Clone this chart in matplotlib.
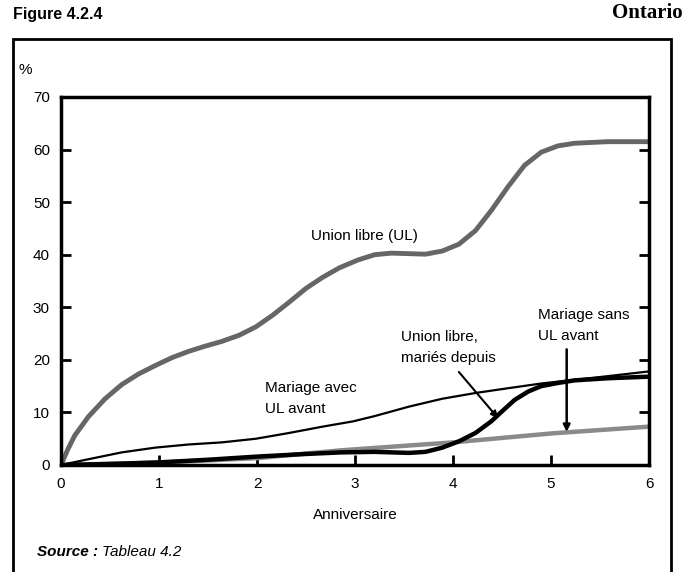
import matplotlib.pyplot as plt
from matplotlib.patches import Rectangle
from matplotlib.ticker import FixedLocator

# Anniversaire (years) and % values
x_ul = [0, 0.07, 0.14, 0.28, 0.45, 0.62, 0.79, 0.96, 1.13, 1.30, 1.47, 1.64, 1.82,
        1.99, 2.16, 2.33, 2.50, 2.67, 2.84, 3.03, 3.20, 3.37, 3.55, 3.72, 3.89,
        4.06, 4.23, 4.39, 4.56, 4.73, 4.90, 5.07, 5.24, 5.58, 6.0]
union_libre = [0, 3.0, 5.6, 9.2, 12.6, 15.3, 17.3, 18.9, 20.4, 21.6, 22.6, 23.5,
               24.7, 26.3, 28.5, 31.0, 33.6, 35.7, 37.5, 39.0, 40.0, 40.3, 40.2,
               40.1, 40.7, 42.0, 44.6, 48.4, 52.9, 57.0, 59.5, 60.7, 61.2, 61.5, 61.5]

x_avec = [0, 0.28, 0.62, 0.96, 1.30, 1.64, 1.99, 2.33, 2.67, 2.98, 3.20, 3.55, 3.89,
          4.23, 4.56, 4.90, 5.24, 5.58, 6.0]
mariage_avec_ul = [0, 1.1, 2.4, 3.3, 3.9, 4.3, 5.0, 6.1, 7.3, 8.3, 9.3, 11.1, 12.6,
                   13.7, 14.6, 15.5, 16.2, 16.9, 17.8]

x_depuis = [0, 0.5, 1.0, 1.5, 2.0, 2.5, 2.86, 3.20, 3.55, 3.72, 3.89, 4.06, 4.23,
            4.39, 4.50, 4.63, 4.77, 4.90, 5.07, 5.24, 5.58, 6.0]
ul_maries_depuis = [0, 0.2, 0.5, 1.0, 1.6, 2.1, 2.4, 2.5, 2.3, 2.5, 3.3, 4.5, 6.1,
                    8.3, 10.2, 12.4, 14.0, 15.0, 15.6, 16.1, 16.5, 16.8]

x_sans = [0, 1, 2, 2.86, 4, 5, 6]
mariage_sans_ul = [0, 0.45, 1.3, 2.8, 4.3, 6.0, 7.3]

xticks = [0, 1, 2, 3, 4, 5, 6]
yticks = [0, 10, 20, 30, 40, 50, 60, 70]

plt.rcParams["font.family"] = ["Liberation Sans", "DejaVu Sans"]

fig = plt.figure(figsize=(6.88, 5.72), dpi=100)

# outer frame
fig.patches.append(Rectangle((13 / 688, -0.01), (671 - 13) / 688, 1.01 - 39 / 572,
                             transform=fig.transFigure, fill=False,
                             edgecolor="black", linewidth=2))

ax = fig.add_axes([61 / 688, 1 - 465 / 572, (649 - 61) / 688, (465 - 97) / 572])

line_kw = dict(solid_joinstyle="round", solid_capstyle="round")
ax.plot(x_ul, union_libre, color="#666666", linewidth=3.5, **line_kw)
ax.plot(x_sans, mariage_sans_ul, color="#8a8a8a", linewidth=3.2, **line_kw)
ax.plot(x_avec, mariage_avec_ul, color="black", linewidth=1.6, **line_kw)
ax.plot(x_depuis, ul_maries_depuis, color="black", linewidth=3.2, **line_kw)

ax.set_xlim(0, 6)
ax.set_ylim(0, 70)
ax.xaxis.set_major_locator(FixedLocator(xticks))
ax.yaxis.set_major_locator(FixedLocator(yticks))
ax.tick_params(direction="in", length=7, width=2, labelsize=11, pad=8,
               left=True, right=True, top=False, bottom=True)
ax.tick_params(axis="x", pad=9)
for s in ax.spines.values():
    s.set_linewidth(2.5)
ax.set_xlabel("Anniversaire", fontsize=11, labelpad=12)

ax.text(-0.05, 1.055, "%", transform=ax.transAxes, fontsize=11, ha="right", va="bottom")

ax.text(3.1, 43.5, "Union libre (UL)", fontsize=11, ha="center", va="center")
ax.text(2.08, 12.7, "Mariage avec\nUL avant", fontsize=11, ha="left", va="center",
        linespacing=1.6)
ax.text(3.47, 22.4, "Union libre,\nmariés depuis", fontsize=11, ha="left", va="center",
        linespacing=1.6)
ax.text(4.87, 26.5, "Mariage sans\nUL avant", fontsize=11, ha="left", va="center",
        linespacing=1.6)
ax.annotate("", xy=(4.46, 8.9), xytext=(4.06, 17.7),
            arrowprops=dict(arrowstyle="-|>", color="black", lw=1.5,
                            mutation_scale=10, shrinkA=0, shrinkB=0))
ax.annotate("", xy=(5.16, 6.3), xytext=(5.16, 22.0),
            arrowprops=dict(arrowstyle="-|>", color="black", lw=1.8,
                            mutation_scale=10, shrinkA=0, shrinkB=0))

fig.text(13 / 688, 1 - 14 / 572, "Figure 4.2.4", fontsize=11.5, fontweight="bold",
         ha="left", va="center")
fig.text(683 / 688, 1 - 13 / 572, "Ontario", fontsize=15, fontweight="bold",
         family="Liberation Serif", ha="right", va="center")
src = fig.text(37 / 688, 1 - 552 / 572, "Source :", fontsize=11, fontweight="bold",
               style="italic", ha="left", va="center")
plt.annotate("Tableau 4.2", xy=(1, 0.5), xycoords=src, xytext=(3, 0),
             textcoords="offset points", fontsize=11, style="italic",
             ha="left", va="center", annotation_clip=False)

fig.savefig("out.png", dpi=100)
